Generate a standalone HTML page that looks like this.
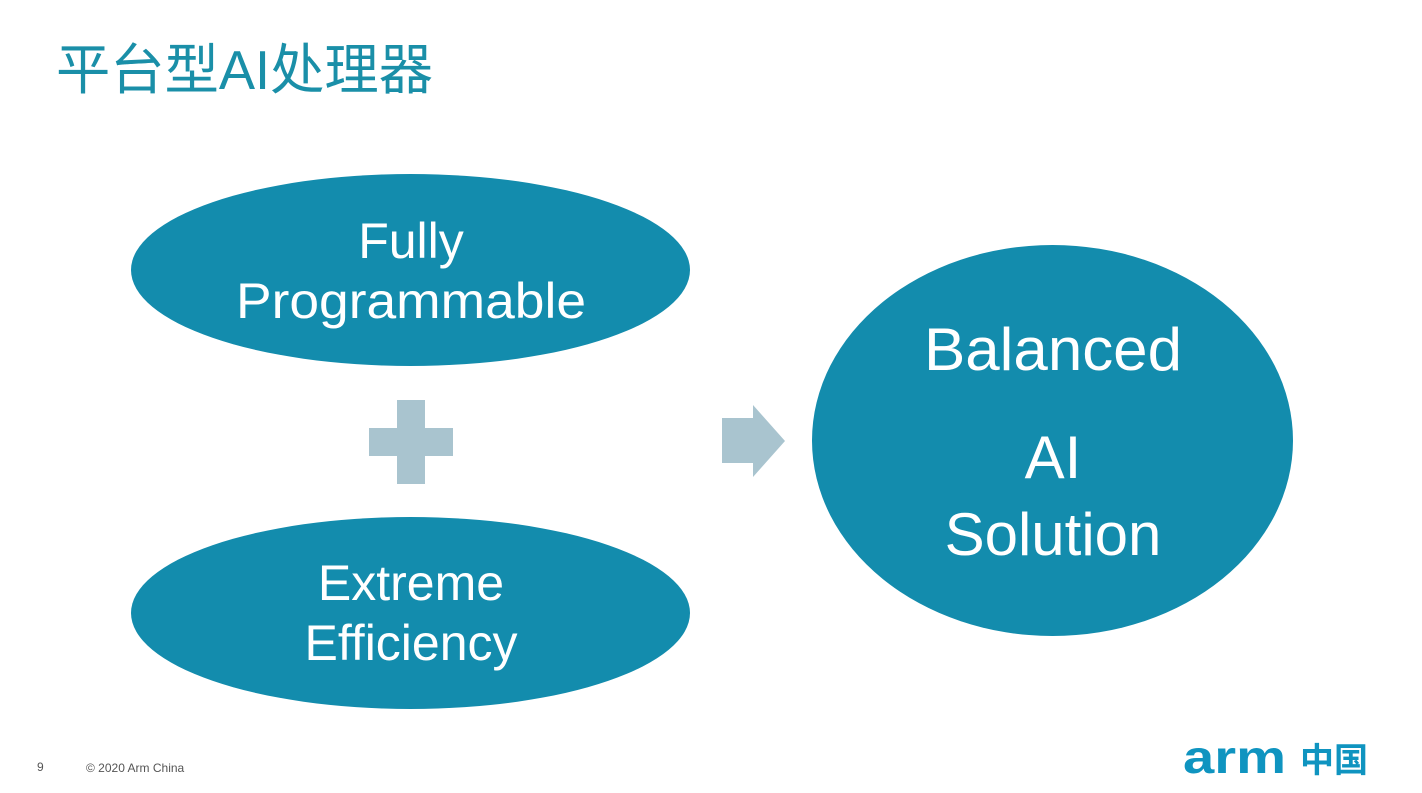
<!DOCTYPE html>
<html><head><meta charset="utf-8"><style>
body{margin:0;width:1422px;height:793px;background:#fff;overflow:hidden;position:relative;font-family:"Liberation Sans","Noto Sans CJK SC",sans-serif}
svg{position:absolute;left:0;top:0}
</style></head><body>
<svg width="1422" height="793" viewBox="0 0 1422 793">
<text x="56" y="89" font-size="55" fill="#1a8fa8" textLength="377" lengthAdjust="spacingAndGlyphs" font-family="Liberation Sans, Noto Sans CJK SC, sans-serif">平台型AI处理器</text>
<ellipse cx="410.5" cy="270" rx="279.5" ry="96" fill="#138cad"/>
<ellipse cx="410.5" cy="613" rx="279.5" ry="96" fill="#138cad"/>
<ellipse cx="1052.5" cy="440.5" rx="240.5" ry="195.5" fill="#138cad"/>
<g fill="#a9c4cf">
<rect x="397" y="400" width="28" height="84"/>
<rect x="369" y="428" width="84" height="28"/>
<polygon points="722,418 753,418 753,405 785,441 753,477 753,463 722,463"/>
</g>
<g fill="#fff" font-size="50" text-anchor="middle" font-family="Liberation Sans, sans-serif">
<text x="411" y="258">Fully</text>
<text x="411" y="318" textLength="350" lengthAdjust="spacingAndGlyphs">Programmable</text>
<text x="411" y="600">Extreme</text>
<text x="411" y="660">Efficiency</text>
</g>
<g fill="#fff" font-size="60" text-anchor="middle" font-family="Liberation Sans, sans-serif">
<text x="1053" y="370" textLength="258" lengthAdjust="spacingAndGlyphs">Balanced</text>
<text x="1053" y="478">AI</text>
<text x="1053" y="555">Solution</text>
</g>
<text x="37" y="771" font-size="12" fill="#555">9</text>
<text x="86" y="772" font-size="12" fill="#555">© 2020 Arm China</text>
<text x="1183" y="773" font-size="46" font-weight="bold" fill="#0f94c0" textLength="103" lengthAdjust="spacingAndGlyphs" font-family="Liberation Sans, sans-serif">arm</text>
<text x="1300" y="772" font-size="34" font-weight="bold" fill="#0f94c0" font-family="Noto Sans CJK SC, sans-serif">中国</text>
</svg>
</body></html>
